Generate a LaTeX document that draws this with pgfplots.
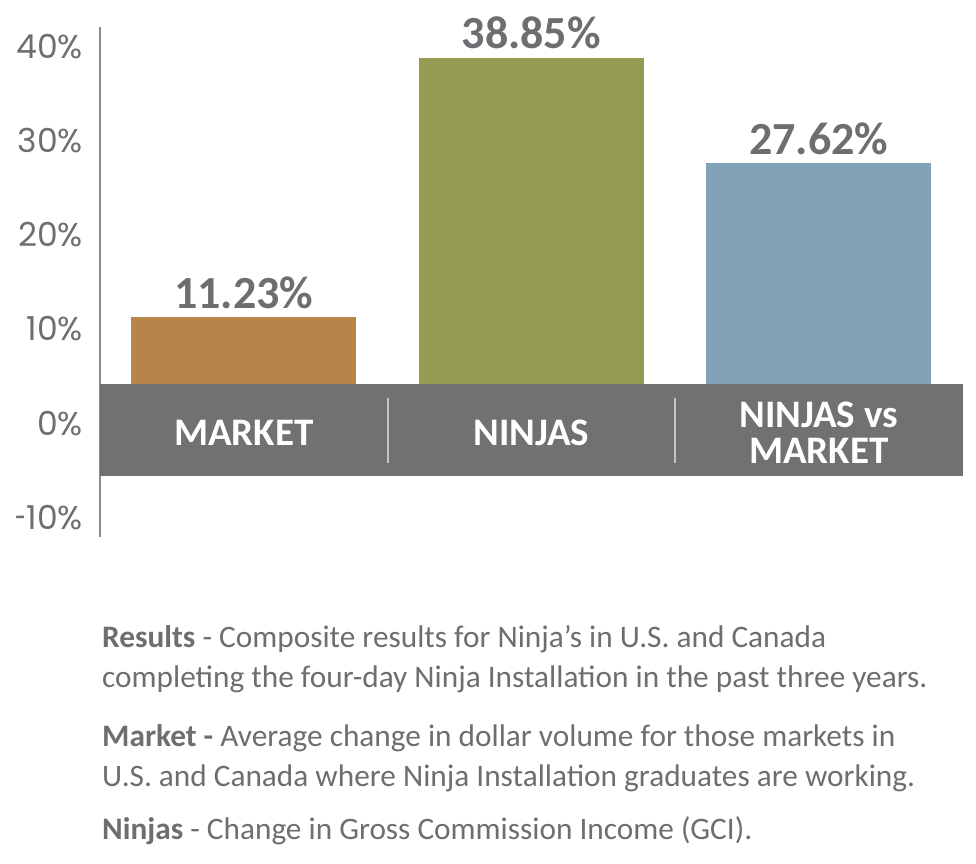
\documentclass[border=0pt]{standalone}
\usepackage{fontspec}
\setmainfont{Carlito}
\newfontfamily\tickfont{Poppins}
\usepackage{graphicx}
\usepackage{pgfplots}
\pgfplotsset{compat=1.18}
\usetikzlibrary{calc}

\definecolor{txtgray}{HTML}{6D6E71}
\definecolor{bandgray}{HTML}{717073}
\definecolor{marketc}{HTML}{B8844A}
\definecolor{ninjac}{HTML}{959B51}
\definecolor{vsc}{HTML}{80A1B6}
\definecolor{axisgray}{HTML}{8A8A8A}
\definecolor{divgray}{HTML}{C4C4C4}

\begin{document}
\begin{tikzpicture}[x=1pt,y=1pt]
\begin{axis}[
  scale only axis, width=862.5pt, height=510pt,
  xmin=-0.5, xmax=2.5, ymin=-12.1, ymax=42.1,
  axis x line=none, axis y line*=left,
  y axis line style={axisgray, line width=1.5pt},
  ytick={-10,0,10,20,30,40},
  yticklabels={\scalebox{0.6}[1]{-}10\%,0\%,10\%,20\%,30\%,40\%},
  major tick length=0pt,
  yticklabel style={font=\tickfont\fontsize{33}{33}\selectfont, text=txtgray,
    anchor=east, inner sep=0pt, xshift=-17pt},
  ybar, bar width=225pt, bar shift=0pt,
  clip=false,
  nodes near coords={\pgfmathprintnumber[fixed,fixed zerofill,precision=2,assume math mode=true]{\pgfplotspointmeta}\%},
  nodes near coords style={font=\bfseries\fontsize{46}{46}\selectfont, text=txtgray,
    anchor=base, inner sep=0pt, yshift=9pt},
]
\addplot[fill=marketc, draw=none] coordinates {(0,11.23)};
\addplot[fill=ninjac, draw=none] coordinates {(1,38.85)};
\addplot[fill=vsc, draw=none] coordinates {(2,27.62)};

% category band
\fill[bandgray] (axis cs:-0.5,4.14) rectangle (axis cs:2.5,-5.63);
\draw[divgray, line width=2pt] (axis cs:0.5,2.66) -- (axis cs:0.5,-4.25);
\draw[divgray, line width=2pt] (axis cs:1.5,2.66) -- (axis cs:1.5,-4.25);
\begin{scope}[every node/.style={text=white, font=\bfseries\fontsize{39}{39}\selectfont, anchor=base, inner sep=0pt}]
\node at (axis cs:0,-2.34) {MARKET};
\node at (axis cs:1,-2.34) {NINJAS};
\node at (axis cs:2,-0.5) {NINJAS vs};
\node at (axis cs:2,-4.25) {MARKET};
\end{scope}
\coordinate (O) at (rel axis cs:0,0);
\end{axis}

\pgfresetboundingbox
\useasboundingbox ($(O)+(-100,-326)$) rectangle ++(976,863);

\begin{scope}[every node/.style={anchor=base west, inner sep=0pt, text=txtgray, font=\fontsize{31.3}{40}\selectfont}]
\node at ($(O)+(2,-110)$) {\textbf{Results} - Composite results for Ninja’s in U.S. and Canada};
\node at ($(O)+(2,-150)$) {completing the four-day Ninja Installation in the past three years.};
\node at ($(O)+(2,-209)$) {\textbf{Market -} Average change in dollar volume for those markets in};
\node at ($(O)+(2,-249)$) {U.S. and Canada where Ninja Installation graduates are working.};
\node at ($(O)+(2,-302)$) {\textbf{Ninjas} - Change in Gross Commission Income (GCI).};
\end{scope}
\end{tikzpicture}
\end{document}
